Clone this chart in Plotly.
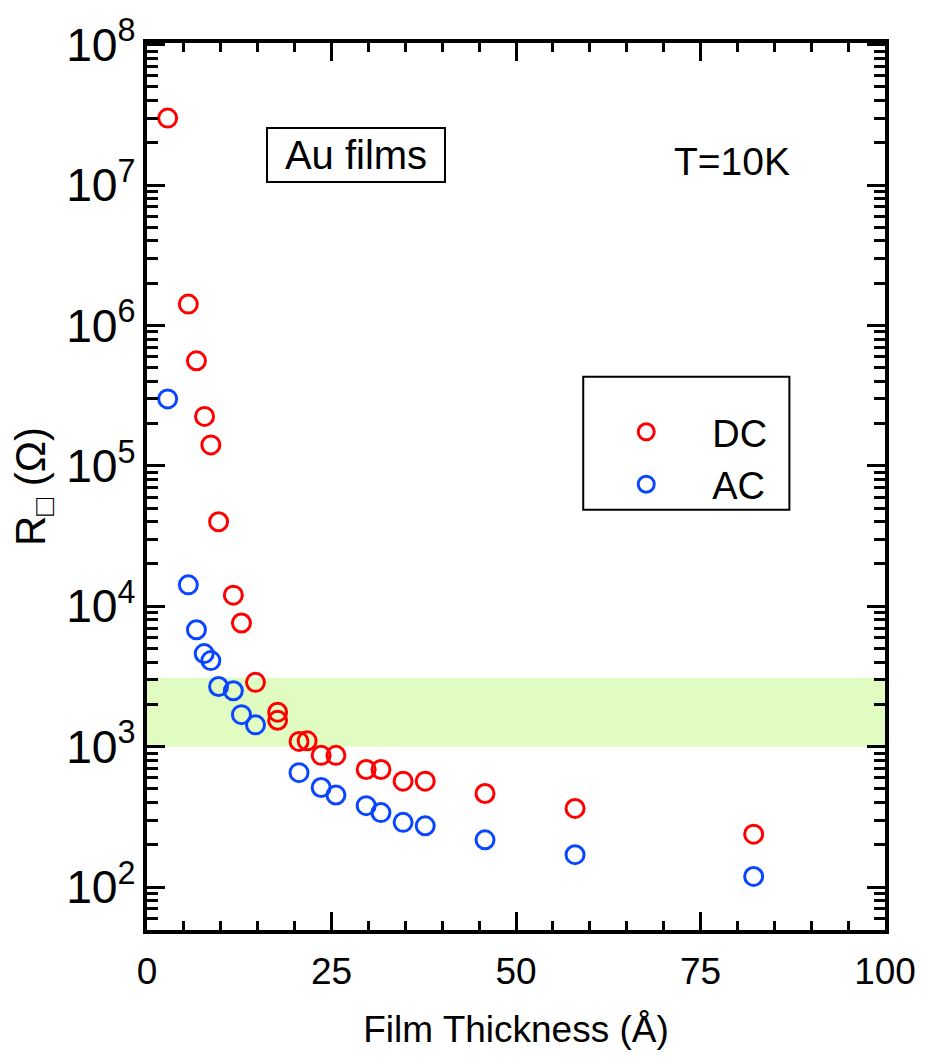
import plotly.graph_objects as go

# Data: film thickness (Å) and sheet resistance (Ω)
dc_thickness = [2.8, 5.6, 6.7, 7.8, 8.65, 9.7, 11.7, 12.8, 14.7, 17.7, 17.7, 20.6, 21.7,
                23.6, 25.6, 29.7, 31.7, 34.7, 37.7, 45.8, 58.0, 82.2]
dc_resistance = [3.0e7, 1.42e6, 5.6e5, 2.25e5, 1.41e5, 4.0e4, 1.2e4, 7.6e3, 2.87e3, 1.76e3,
                 1.54e3, 1.09e3, 1.1e3, 867, 867, 687, 687, 568, 568, 464, 363, 238]
ac_thickness = [2.8, 5.6, 6.7, 7.75, 8.65, 9.7, 11.7, 12.8, 14.7, 20.6, 23.6, 25.6,
                29.7, 31.7, 34.7, 37.7, 45.8, 58.0, 82.2]
ac_resistance = [3.0e5, 1.42e4, 6.8e3, 4.6e3, 4.1e3, 2.68e3, 2.5e3, 1.69e3, 1.43e3, 653,
                 512, 452, 380, 339, 289, 273, 217, 170, 119]

band_range = [1000, 3100]
x_range = [0, 100]
x_ticks = [0, 25, 50, 75, 100]

RED = "#ff0000"
BLUE = "#0a46ff"
FONT = "Liberation Sans, Arial, sans-serif"

fig = go.Figure()

# shaded resistance band, drawn through the data axes
fig.add_trace(go.Scatter(
    x=[x_range[0], x_range[1], x_range[1], x_range[0]],
    y=[band_range[0], band_range[0], band_range[1], band_range[1]],
    mode="lines", fill="toself", fillcolor="#e0fcc0", line=dict(width=0),
    showlegend=False, hoverinfo="skip",
))

fig.add_trace(go.Scatter(
    x=dc_thickness, y=dc_resistance, mode="markers", name="DC",
    marker=dict(symbol="circle-open", size=18, color=RED, line=dict(width=3, color=RED)),
))
fig.add_trace(go.Scatter(
    x=ac_thickness, y=ac_resistance, mode="markers", name="AC",
    marker=dict(symbol="circle-open", size=18, color=BLUE, line=dict(width=3, color=BLUE)),
))

# legend frame
fig.add_shape(type="rect", xref="paper", yref="paper",
              x0=(585 - 147) / 741, x1=(792 - 147) / 741,
              y0=(930 - 507) / 893, y1=(930 - 373) / 893,
              line=dict(color="black", width=2), fillcolor="rgba(0,0,0,0)")

fig.add_annotation(text="Au films", xref="paper", yref="paper",
                   x=(357 - 147) / 741, y=(930 - 150) / 893,
                   xanchor="center", yanchor="middle",
                   showarrow=False, font=dict(family=FONT, size=40, color="black"),
                   width=172, height=48, borderpad=2,
                   bordercolor="black", borderwidth=2, bgcolor="white")
fig.add_annotation(text="T=10K", xref="paper", yref="paper",
                   x=(734 - 147) / 741, y=(930 - 156) / 893,
                   xanchor="center", yanchor="middle",
                   showarrow=False, font=dict(family=FONT, size=39, color="black"))

axis_common = dict(
    showline=True, linecolor="black", linewidth=4, mirror="allticks",
    ticks="inside", tickcolor="black", tickwidth=3, ticklen=18,
    showgrid=False, zeroline=False,
)

fig.update_xaxes(
    **axis_common, range=x_range, tickvals=x_ticks,
    tickfont=dict(family=FONT, size=37, color="black"),
    ticklabelstandoff=6,
    minor=dict(ticks="inside", ticklen=9, tickwidth=3, tickcolor="black", dtick=5, showgrid=False),
    title=dict(text="Film Thickness (Å)", font=dict(family=FONT, size=37, color="black"), standoff=26),
)
fig.update_yaxes(
    **axis_common, type="log", range=[1.694, 8.012], dtick=1, exponentformat="power",
    tickfont=dict(family=FONT, size=37, color="black"),
    ticklabelstandoff=0,
    minor=dict(ticks="inside", ticklen=11, tickwidth=3, tickcolor="black", dtick="D1", showgrid=False),
    title=dict(text="R<sub>□</sub> (Ω)", font=dict(family=FONT, size=42, color="black"), standoff=8),
)

fig.update_layout(
    width=928, height=1058,
    margin=dict(l=147, r=40, t=37, b=128),
    paper_bgcolor="white", plot_bgcolor="white",
    showlegend=True,
    legend=dict(x=(582 - 147) / 741, y=(930 - 397) / 893, xanchor="left", yanchor="top",
                font=dict(family=FONT, size=38, color="black"),
                bgcolor="rgba(0,0,0,0)", borderwidth=0, itemsizing="trace", itemwidth=122),
)

fig.write_html("out.html")
